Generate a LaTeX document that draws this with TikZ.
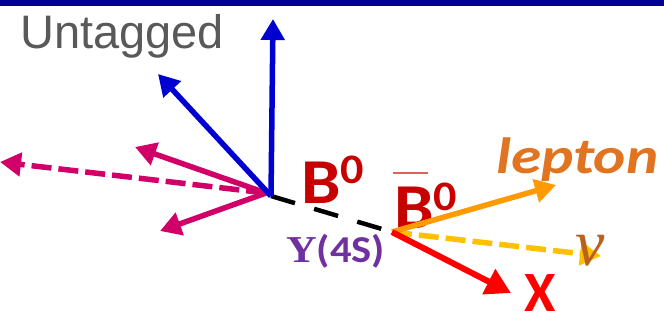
\documentclass[tikz,border=0pt]{standalone}
\usepackage{fontspec}
\setmainfont{Liberation Sans}
\newfontfamily\calfont{Carlito}
\newfontfamily\serifgr{Liberation Serif}
\usetikzlibrary{arrows.meta}
\definecolor{topbar}{HTML}{000099}
\definecolor{untag}{HTML}{595959}
\definecolor{bred}{HTML}{C80000}
\definecolor{overl}{HTML}{E06060}
\definecolor{purp}{HTML}{7030A0}
\definecolor{lepc}{HTML}{E07420}
\definecolor{nuc}{HTML}{B8621E}
\definecolor{xred}{HTML}{FF0000}
\definecolor{orng}{HTML}{FF9A00}
\definecolor{yell}{HTML}{FFC000}
\definecolor{mag}{HTML}{D10068}
\definecolor{blu}{HTML}{0000D0}
\begin{document}
\begin{tikzpicture}[x=1pt,y=-1pt,
  lbl/.style={inner sep=0pt, anchor=base west},
  arr/.style={line width=5.5pt, -{Triangle[length=21pt,width=23pt]}},
  bigarr/.style={line width=6pt, -{Triangle[length=25pt,width=27pt]}},
  dsh/.style={dash pattern=on 20pt off 7pt}]
\useasboundingbox (0,0) rectangle (664,327);
\fill[topbar] (0,0) rectangle (664,6);

% vertices and arrow ends
\coordinate (L) at (271,196);
\coordinate (Lm) at (266,193);
\coordinate (R) at (392,232);
\coordinate (tUp) at (273,19);
\coordinate (tDiag) at (158,74);
\coordinate (tM1) at (135,147);
\coordinate (tM2) at (0,162);
\coordinate (tM3) at (160,231);
\coordinate (tLep) at (556,185);
\coordinate (tNu) at (601,256);
\coordinate (tX) at (511,293);

% labels
\node[lbl, text=untag, font=\fontsize{47}{47}\selectfont] (untagged) at (20,48) {Untagged};
\node[lbl, text=bred, font=\calfont\bfseries\fontsize{64}{64}\selectfont, xscale=1.1] (b0) at (301,203)
  {B\raisebox{20pt}{\fontsize{42}{42}\selectfont 0}};
\node[lbl, text=bred, font=\calfont\bfseries\fontsize{64}{64}\selectfont, xscale=1.1] (bb0) at (394,228)
  {B\raisebox{18pt}{\fontsize{42}{42}\selectfont 0}};
\draw[overl, line width=2pt] (393,173) -- (428,173);
\node[lbl, text=purp, font=\fontsize{38}{38}\selectfont, xscale=1.12] (ups) at (286,262)
  {{\serifgr\bfseries Υ}{\calfont\bfseries(4S)}};
\node[lbl, text=lepc, font=\calfont\bfseries\itshape\fontsize{51}{51}\selectfont, xscale=1.2] (lep) at (496,173) {lepton};
\node[lbl, text=xred, font=\calfont\bfseries\fontsize{57}{57}\selectfont] (xl) at (524,311) {X};

% connectors
\draw[line width=4.5pt, dash pattern=on 25pt off 20pt] (L) -- (R);
\draw[arr, mag, dsh] (Lm) -- (tM2);
\draw[arr, mag] (Lm) -- (tM1);
\draw[arr, mag] (Lm) -- (tM3);
\draw[arr, blu] (L) -- (tDiag);
\draw[arr, blu] (L) -- (tUp);
\draw[arr, yell, dsh] (R) -- (tNu);
\draw[arr, orng] (R) -- (tLep);
\draw[bigarr, xred] (R) -- (tX);

\node[inner sep=0pt, anchor=base, text=nuc, font=\serifgr\itshape\fontsize{66}{66}\selectfont] (nu) at (590,265) {ν};
\end{tikzpicture}
\end{document}
